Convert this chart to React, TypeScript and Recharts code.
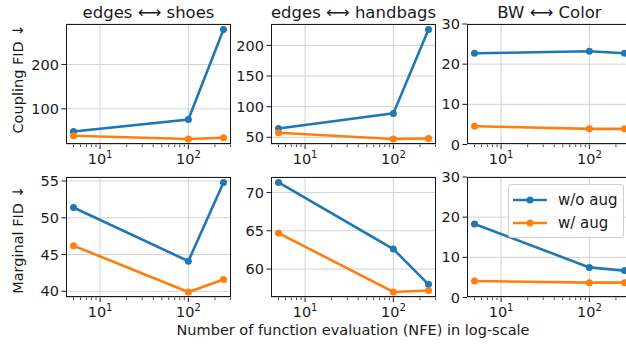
import React from "react";
import {
  LineChart,
  Line,
  XAxis,
  YAxis,
  CartesianGrid,
  ReferenceLine,
  Legend,
} from "recharts";

// NFE values (log-scale x axis)
const nfe = [5, 100, 250];

const couplingShoesWo = [49, 76, 279];
const couplingShoesW = [39.5, 32, 35];
const couplingBagsWo = [64.5, 89, 226];
const couplingBagsW = [57.5, 47.2, 48];
const couplingColorWo = [22.7, 23.2, 22.7];
const couplingColorW = [4.55, 3.9, 3.9];

const marginalShoesWo = [51.4, 44.1, 54.8];
const marginalShoesW = [46.2, 39.9, 41.6];
const marginalBagsWo = [71.3, 62.6, 58.0];
const marginalBagsW = [64.7, 57.0, 57.2];
const marginalColorWo = [18.3, 7.5, 6.7];
const marginalColorW = [4.1, 3.7, 3.7];

const titles = ["edges ⟷ shoes", "edges ⟷ handbags", "BW ⟷ Color"];
const rowLabels = ["Coupling FID ↓", "Marginal FID ↓"];
const xLabel = "Number of function evaluation (NFE) in log-scale";
const seriesNames = ["w/o aug", "w/ aug"];

const ticksCouplingShoes = [100, 200];
const ticksCouplingBags = [50, 100, 150, 200];
const ticksColor = [0, 10, 20, 30];
const ticksMarginalShoes = [40, 45, 50, 55];
const ticksMarginalBags = [60, 65, 70];

const majorX = [10, 100];
const minorX = [5, 6, 7, 8, 9, 20, 30, 40, 50, 60, 70, 80, 90, 200, 300];

const BLUE = "#1f77b4";
const ORANGE = "#ff7f0e";
const INK = "#1a1a1a";
const FONT = "'DejaVu Sans', sans-serif";

const COL_LEFT = [66, 271, 467];
const ROW_TOP = [23.5, 176.5];
const PLOT_W = 165;
const PLOT_H = 120.5;
const Y_W = 50;
const X_H = 28;
const PAD = 10;

// matplotlib-style 5% autoscale margins
function autoDomain(a: number[], b: number[]): [number, number] {
  const all = [...a, ...b];
  const lo = Math.min(...all);
  const hi = Math.max(...all);
  const m = (hi - lo) * 0.05;
  return [lo - m, hi + m];
}
const logLo = Math.log10(nfe[0]);
const logHi = Math.log10(nfe[nfe.length - 1]);
const logM = (logHi - logLo) * 0.05;
const xDomain: [number, number] = [10 ** (logLo - logM), 10 ** (logHi + logM)];

function XTick(props: any) {
  const { x, y, payload } = props;
  const v = payload.value;
  const major = majorX.includes(v);
  const exp = Math.round(Math.log10(v));
  return (
    <g>
      <line x1={x} x2={x} y1={y} y2={y + (major ? 4.5 : 2.5)} stroke={INK} strokeWidth={major ? 1 : 0.8} />
      {major && (
        <text x={x} y={y + 19.5} textAnchor="middle" fontSize={14.5} fill={INK} fontFamily={FONT}>
          10
          <tspan dy={-6.5} fontSize={10}>
            {exp}
          </tspan>
        </text>
      )}
    </g>
  );
}

function LegendBox() {
  return (
    <div
      style={{
        border: "1px solid #d0d0d0",
        borderRadius: 3,
        background: "rgba(255,255,255,0.85)",
        padding: "3px 6px 3px 4px",
        fontFamily: FONT,
        fontSize: 15,
        color: INK,
        width: 116,
        boxSizing: "border-box",
        whiteSpace: "nowrap",
        textAlign: "left",
      }}
    >
      {seriesNames.map((name, i) => (
        <div key={name} style={{ display: "flex", alignItems: "center", height: 23 }}>
          <svg width={36} height={10} style={{ marginRight: 9, flex: "none" }}>
            <line x1={0} x2={34} y1={5} y2={5} stroke={i === 0 ? BLUE : ORANGE} strokeWidth={2.6} />
            <circle cx={17} cy={5} r={3.5} fill={i === 0 ? BLUE : ORANGE} />
          </svg>
          <span>{name}</span>
        </div>
      ))}
    </div>
  );
}

function Panel({
  col,
  row,
  wo,
  w,
  domain,
  ticks,
  legend,
}: {
  col: number;
  row: number;
  wo: number[];
  w: number[];
  domain: [number, number];
  ticks: number[];
  legend?: boolean;
}) {
  const data = nfe.map((n, i) => ({ nfe: n, wo: wo[i], w: w[i] }));
  const left = COL_LEFT[col] - Y_W;
  const top = ROW_TOP[row] - PAD;
  return (
    <div style={{ position: "absolute", left, top }}>
      <LineChart
        width={Y_W + PLOT_W + PAD}
        height={PAD + PLOT_H + X_H}
        data={data}
        margin={{ top: PAD, right: PAD, left: 0, bottom: 0 }}
      >
        <CartesianGrid vertical={false} stroke="#d3d3d3" strokeWidth={1} />
        <ReferenceLine x={10} stroke="#d3d3d3" strokeWidth={1} />
        <ReferenceLine x={100} stroke="#d3d3d3" strokeWidth={1} />
        <XAxis
          dataKey="nfe"
          type="number"
          scale="log"
          domain={xDomain}
          allowDataOverflow
          ticks={[...minorX, ...majorX].sort((a, b) => a - b)}
          interval={0}
          tick={<XTick />}
          tickLine={false}
          tickSize={0}
          tickMargin={0}
          axisLine={false}
          height={X_H}
        />
        <YAxis
          type="number"
          domain={domain}
          allowDataOverflow
          ticks={ticks}
          interval={0}
          width={Y_W}
          tickSize={4.5}
          tickMargin={2.5}
          tickLine={{ stroke: INK }}
          axisLine={false}
          tick={{ fontSize: 14.5, fill: INK, fontFamily: FONT }}
        />
        {legend && (
          <Legend
            layout="vertical"
            align="center"
            verticalAlign="middle"
            width={116}
            content={<LegendBox />}
            wrapperStyle={{ left: Y_W + 41, top: PAD + 7.5, width: 116 }}
          />
        )}
        <Line
          dataKey="wo"
          name={seriesNames[0]}
          stroke={BLUE}
          strokeWidth={2.6}
          dot={{ r: 3.5, fill: BLUE, stroke: BLUE, strokeWidth: 0 }}
          isAnimationActive={false}
        />
        <Line
          dataKey="w"
          name={seriesNames[1]}
          stroke={ORANGE}
          strokeWidth={2.6}
          dot={{ r: 3.5, fill: ORANGE, stroke: ORANGE, strokeWidth: 0 }}
          isAnimationActive={false}
        />
      </LineChart>
      <div
        style={{
          position: "absolute",
          left: Y_W,
          top: PAD,
          width: PLOT_W,
          height: PLOT_H,
          border: `1px solid ${INK}`,
          boxSizing: "border-box",
          pointerEvents: "none",
        }}
      />
    </div>
  );
}

export default function App() {
  return (
    <div
      style={{
        position: "absolute",
        left: 0,
        top: 0,
        width: 626,
        height: 344,
        overflow: "hidden",
        background: "#fff",
      }}
    >
      <Panel col={0} row={0} wo={couplingShoesWo} w={couplingShoesW} domain={autoDomain(couplingShoesWo, couplingShoesW)} ticks={ticksCouplingShoes} />
      <Panel col={1} row={0} wo={couplingBagsWo} w={couplingBagsW} domain={autoDomain(couplingBagsWo, couplingBagsW)} ticks={ticksCouplingBags} />
      <Panel col={2} row={0} wo={couplingColorWo} w={couplingColorW} domain={[0, 30]} ticks={ticksColor} />
      <Panel col={0} row={1} wo={marginalShoesWo} w={marginalShoesW} domain={autoDomain(marginalShoesWo, marginalShoesW)} ticks={ticksMarginalShoes} />
      <Panel col={1} row={1} wo={marginalBagsWo} w={marginalBagsW} domain={autoDomain(marginalBagsWo, marginalBagsW)} ticks={ticksMarginalBags} />
      <Panel col={2} row={1} wo={marginalColorWo} w={marginalColorW} domain={[0, 30]} ticks={ticksColor} legend />
      <svg width={626} height={344} style={{ position: "absolute", left: 0, top: 0, pointerEvents: "none" }}>
        {titles.map((t, i) => (
          <text key={t} x={COL_LEFT[i] + PLOT_W / 2} y={17.5} textAnchor="middle" fontSize={16.5} fill={INK} fontFamily={FONT}>
            {t}
          </text>
        ))}
        <text transform="translate(23,79) rotate(-90)" textAnchor="middle" fontSize={14.5} fill={INK} fontFamily={FONT}>
          {rowLabels[0]}
        </text>
        <text transform="translate(23,240) rotate(-90)" textAnchor="middle" fontSize={14.5} fill={INK} fontFamily={FONT}>
          {rowLabels[1]}
        </text>
        <text x={353} y={334.5} textAnchor="middle" fontSize={14.5} fill={INK} fontFamily={FONT}>
          {xLabel}
        </text>
      </svg>
    </div>
  );
}
